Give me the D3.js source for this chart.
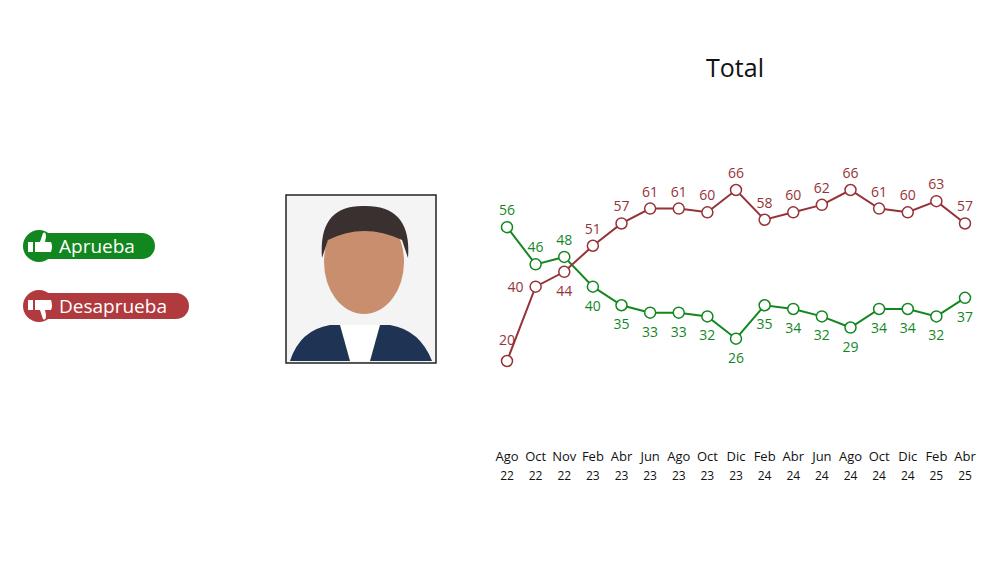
<!DOCTYPE html>
<html lang="es">
<head>
<meta charset="UTF-8" />
<title>Total</title>
<script src="https://d3js.org/d3.v7.min.js"></script>
<style>
  body { margin: 0; background: #fff; }
  text { font-family: "Open Sans", "DejaVu Sans", sans-serif; }
</style>
</head>
<body>
<div id="chart"></div>
<script>
const width = 1000, height = 563;

const meses = ["Ago","Oct","Nov","Feb","Abr","Jun","Ago","Oct","Dic","Feb","Abr","Jun","Ago","Oct","Dic","Feb","Abr"];
const anios = ["22","22","22","23","23","23","23","23","23","24","24","24","24","24","24","25","25"];
const aprueba = [56,46,48,40,35,33,33,32,26,35,34,32,29,34,34,32,37];
const desaprueba = [20,40,44,51,57,61,61,60,66,58,60,62,66,61,60,63,57];

const verde = "#13871f", rojo = "#963338";

const svg = d3.select("#chart").append("svg")
  .attr("width", width).attr("height", height);

svg.append("text").attr("x", 735).attr("y", 77).attr("text-anchor", "middle")
  .attr("font-size", 25).attr("fill", "#111").text("Total");

const x = d3.scalePoint().domain(d3.range(meses.length)).range([507, 965]);
const y = d3.scaleLinear().domain([20, 66]).range([361, 190]);

// etiquetas del eje
const ejes = svg.append("g");
meses.forEach((m, i) => {
  const t = ejes.append("text").attr("x", x(i)).attr("y", 461)
    .attr("text-anchor", "middle").attr("font-size", 13).attr("fill", "#111");
  t.append("tspan").attr("x", x(i)).text(m);
  t.append("tspan").attr("x", x(i)).attr("dy", 19).attr("font-size", 12).text(anios[i]);
});

const linea = d3.line().x((d, i) => x(i)).y(d => y(d));

function serie(datos, color, abajo) {
  svg.append("path").datum(datos).attr("d", linea)
    .attr("fill", "none").attr("stroke", color).attr("stroke-width", 2);
  svg.selectAll(null).data(datos).enter().append("circle")
    .attr("cx", (d, i) => x(i)).attr("cy", d => y(d)).attr("r", 5.5)
    .attr("fill", "#fff").attr("stroke", color).attr("stroke-width", 1.5);
  svg.selectAll(null).data(datos).enter().append("text")
    .attr("x", (d, i) => x(i)).attr("y", (d, i) => abajo(i) ? y(d) + 24 : y(d) - 12)
    .attr("text-anchor", "middle").attr("font-size", 14).attr("fill", color)
    .text(d => d);
}
// aprueba: primeras tres arriba, resto abajo
serie(aprueba, verde, i => i > 2);
// desaprueba: arriba salvo Ago22 (encima), Oct22 a la izquierda, Nov22 abajo
serie(desaprueba, rojo, i => i === 2);
// ajustes de las etiquetas de los primeros puntos rojos
svg.selectAll("text").filter(function() {
  return d3.select(this).attr("fill") === rojo && this.textContent === "40";
}).attr("x", x(1) - 20).attr("y", y(40) + 5);
svg.selectAll("text").filter(function() {
  return d3.select(this).attr("fill") === rojo && this.textContent === "20";
}).attr("y", y(20) - 16);

// leyenda
function boton(yc, texto, color, w, arriba) {
  const g = svg.append("g");
  g.append("rect").attr("x", 24).attr("y", yc - 13).attr("width", w).attr("height", 26)
    .attr("rx", 13).attr("fill", color);
  g.append("circle").attr("cx", 39).attr("cy", yc).attr("r", 16).attr("fill", color);
  const s = arriba ? 1 : -1;
  g.append("rect").attr("x", 28).attr("y", yc - 4 * s - (arriba ? 0 : 10)).attr("width", 5).attr("height", 10).attr("fill", "#fff");
  g.append("path").attr("fill", "#fff")
    .attr("d", `M35,${yc - 4 * s} L40,${yc - 4 * s} L43,${yc - 13 * s} Q46,${yc - 15 * s} 46,${yc - 9 * s} L45,${yc - 4 * s} L51,${yc - 4 * s} Q53,${yc} 51,${yc + 6 * s} L35,${yc + 6 * s} Z`);
  g.append("text").attr("x", 59).attr("y", yc + 7).attr("font-size", 19)
    .attr("fill", "#fff").text(texto);
}
boton(246, "Aprueba", verde, 131, true);
boton(306, "Desaprueba", "#b03a3e", 165, false);

// retrato (marco)
const foto = svg.append("g");
foto.append("rect").attr("x", 286).attr("y", 195).attr("width", 150).attr("height", 168)
  .attr("fill", "#f4f4f4").attr("stroke", "#222").attr("stroke-width", 1.5);
foto.append("path").attr("fill", "#1f3355")
  .attr("d", "M290,361 Q300,330 330,325 L390,325 Q420,330 432,361 Z");
foto.append("path").attr("fill", "#fff").attr("d", "M340,325 L380,325 L370,361 L350,361 Z");
foto.append("ellipse").attr("cx", 364).attr("cy", 262).attr("rx", 40).attr("ry", 52).attr("fill", "#c98e6e");
foto.append("path").attr("fill", "#3a3030")
  .attr("d", "M322,258 Q318,205 364,206 Q412,205 408,258 L402,240 Q364,222 328,240 Z");
</script>
</body>
</html>
